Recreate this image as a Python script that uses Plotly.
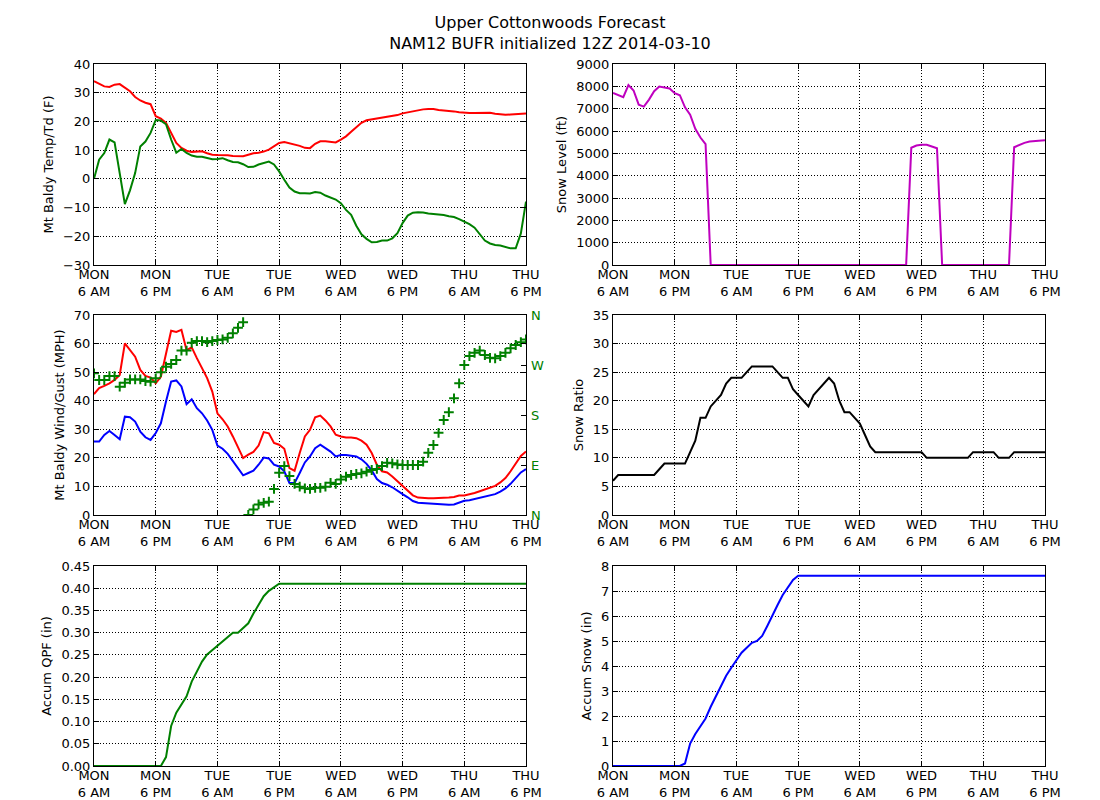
import plotly.graph_objects as go

# forecast hour since MON 6 AM (hourly NAM12 BUFR output)
hours = list(range(85))
tick_hours = [0, 12, 24, 36, 48, 60, 72, 84]
tick_labels = ["MON<br>6 AM", "MON<br>6 PM", "TUE<br>6 AM", "TUE<br>6 PM",
               "WED<br>6 AM", "WED<br>6 PM", "THU<br>6 AM", "THU<br>6 PM"]

temp_f = [34, 33, 32.2, 32, 32.8, 33, 31.7, 30.5, 28.5, 27.3,
          26.5, 26, 21.8, 21, 19.5, 16, 12.5, 10.8, 9.8, 9.4,
          9.4, 9.6, 8.9, 8.4, 8.3, 8.3, 8.2, 8, 8, 7.9,
          8.4, 8.9, 9.1, 9.5, 10.2, 11.3, 12.5, 12.8, 12.4, 11.9,
          11.5, 10.8, 10.7, 12.2, 13.1, 13.1, 12.9, 12.7, 13.7, 14.8,
          16.4, 18, 19.5, 20.4, 20.7, 20.8, 21.2, 21.6, 21.8, 22.2,
          22.8, 23.2, 23.6, 23.9, 24.2, 24.3, 24.3, 24, 23.9, 23.7,
          23.5, 23.2, 23, 22.9, 22.9, 23, 23.1, 23, 22.7, 22.4,
          22.3, 22.4, 22.5, 22.5, 22.8]
dewpt_f = [0, 6.7, 9, 13.7, 12.7, 2, -8.8, -4, 2, 11.3,
           13, 16, 20.5, 20.3, 19, 13.7, 9.1, 10.4, 9, 8.1,
           7.7, 7.7, 7.3, 6.8, 6.9, 7.2, 6.5, 5.9, 5.8, 5.1,
           4.1, 4.2, 5, 5.5, 6, 5, 2.6, -0.3, -3, -4.4,
           -5, -5, -5.1, -4.6, -4.8, -5.8, -6.4, -7.2, -8.5, -10.8,
           -12.5, -16.3, -19.3, -20.9, -22.1, -22, -21.5, -21.5, -20.7, -18.9,
           -15.4, -12.8, -11.8, -11.6, -11.7, -12.1, -12.2, -12.3, -12.6, -13,
           -13.3, -14, -14.9, -15.8, -17, -19.2, -21.5, -22.5, -23, -23.2,
           -23.6, -24.2, -24.2, -19, -7.9]

snow_level_ft = [7707, 7602, 7512, 8053, 7813, 7181, 7091, 7407, 7782, 7993,
                 7933, 7903, 7692, 7602, 7061, 6731, 6100, 5709, 5409, 0,
                 0, 0, 0, 0, 0, 0, 0, 0, 0, 0,
                 0, 0, 0, 0, 0, 0, 0, 0, 0, 0,
                 0, 0, 0, 0, 0, 0, 0, 0, 0, 0,
                 0, 0, 0, 0, 0, 0, 0, 0, 5250, 5349,
                 5379, 5379, 5304, 5229, 0, 0, 0, 0, 0, 0,
                 0, 0, 0, 0, 0, 0, 0, 0, 5274, 5379,
                 5469, 5529, 5559, 5589, 5589]

wind_mph = [25.7, 25.7, 28, 29.4, 28, 26.5, 34.4, 34.2, 32.7, 29.2,
            27.2, 26.3, 28.7, 32.1, 39.7, 46.7, 47.1, 45, 38.8, 40.5,
            37.4, 35.6, 33.1, 29.8, 24.3, 23.2, 21.4, 18.8, 16.2, 13.9,
            14.7, 15.5, 17.6, 20.1, 19.8, 17.6, 17, 15.3, 11.2, 11.2,
            14.7, 18.4, 20.5, 23.4, 24.6, 23.4, 22.2, 20.5, 21, 21,
            20.8, 20.5, 19.5, 17.9, 15.6, 12.6, 11.2, 10.6, 9.7, 8.4,
            7.3, 6.2, 4.9, 4.3, 4.2, 4.1, 3.8, 3.7, 3.6, 3.6,
            3.7, 4.3, 5, 5.2, 5.6, 5.9, 6.4, 6.9, 7.3, 8.2,
            9.3, 10.9, 12.9, 14.9, 16.1]
gust_mph = [42.3, 44.4, 45.2, 46.1, 47.3, 49, 60.1, 57.8, 55.4, 50.8,
            48.7, 48.1, 46.1, 48.4, 56.6, 64.5, 64.1, 64.8, 57.7, 58.7,
            54.9, 51.6, 47.9, 43.2, 35.6, 33.5, 31, 27.5, 23.6, 19.9,
            21.1, 22.1, 24.3, 29, 28.6, 25.2, 24.6, 23.2, 16.4, 15.5,
            21.7, 27.5, 29.8, 34.2, 34.8, 33.1, 31, 28.1, 27.5, 27.1,
            27.1, 26.9, 26, 24.6, 21.7, 17.6, 15.3, 14.9, 13.5, 11.8,
            10.2, 8.6, 6.9, 6.1, 5.9, 5.9, 5.9, 5.9, 5.9, 6.1,
            6.3, 6.8, 6.8, 7.2, 7.7, 8.3, 8.9, 9.4, 10.2, 11.4,
            12.9, 15.3, 18.2, 20.7, 22.2]
wind_dir_deg = [255, 243, 243, 250, 250, 231, 238, 244, 244, 244,
                241, 240, 246, 257, 267, 272, 279, 296, 296, 310,
                313, 313, 311, 313, 315, 316, 319, 327, 337, 347,
                0, 10, 19, 22, 24, 47, 76, 88, 70, 56,
                51, 48, 47, 49, 49, 51, 58, 56, 64, 69,
                72, 74, 75, 78, 81, 83, 88, 94, 93, 91,
                90, 90, 90, 90, 96, 112, 126, 148, 171, 185,
                210, 237, 270, 286, 292, 296, 288, 283, 282, 286,
                292, 300, 306, 311, 316]
dir_ticks = [0, 90, 180, 270, 360]
dir_labels = ["N", "E", "S", "W", "N"]

snow_ratio = [6, 7, 7, 7, 7, 7, 7, 7, 7, 8,
              9, 9, 9, 9, 9, 11, 13, 17, 17, 19,
              20, 21, 23, 24, 24, 24, 25, 26, 26, 26,
              26, 26, 25, 24, 24, 22, 21, 20, 19, 21,
              22, 23, 24, 23, 20, 18, 18, 17, 16, 14,
              12, 11, 11, 11, 11, 11, 11, 11, 11, 11,
              11, 10, 10, 10, 10, 10, 10, 10, 10, 10,
              11, 11, 11, 11, 11, 10, 10, 10, 11, 11,
              11, 11, 11, 11, 11]

accum_qpf_in = [0, 0, 0, 0, 0, 0, 0, 0, 0, 0,
                0, 0, 0, 0, 0.02, 0.09, 0.12, 0.137, 0.157, 0.19,
                0.212, 0.235, 0.251, 0.261, 0.271, 0.281, 0.291, 0.30, 0.30, 0.311,
                0.321, 0.343, 0.362, 0.382, 0.394, 0.403, 0.41, 0.41, 0.41, 0.41,
                0.41, 0.41, 0.41, 0.41, 0.41, 0.41, 0.41, 0.41, 0.41, 0.41,
                0.41, 0.41, 0.41, 0.41, 0.41, 0.41, 0.41, 0.41, 0.41, 0.41,
                0.41, 0.41, 0.41, 0.41, 0.41, 0.41, 0.41, 0.41, 0.41, 0.41,
                0.41, 0.41, 0.41, 0.41, 0.41, 0.41, 0.41, 0.41, 0.41, 0.41,
                0.41, 0.41, 0.41, 0.41, 0.41]
accum_snow_in = [0, 0, 0, 0, 0, 0, 0, 0, 0, 0,
                 0, 0, 0, 0, 0.1, 0.9, 1.28, 1.57, 1.9, 2.37,
                 2.77, 3.2, 3.61, 3.93, 4.24, 4.53, 4.73, 4.93, 5.0, 5.2,
                 5.6, 6.04, 6.44, 6.84, 7.15, 7.44, 7.61, 7.61, 7.61, 7.61,
                 7.61, 7.61, 7.61, 7.61, 7.61, 7.61, 7.61, 7.61, 7.61, 7.61,
                 7.61, 7.61, 7.61, 7.61, 7.61, 7.61, 7.61, 7.61, 7.61, 7.61,
                 7.61, 7.61, 7.61, 7.61, 7.61, 7.61, 7.61, 7.61, 7.61, 7.61,
                 7.61, 7.61, 7.61, 7.61, 7.61, 7.61, 7.61, 7.61, 7.61, 7.61,
                 7.61, 7.61, 7.61, 7.61, 7.61]

RED, GREEN, BLUE, MAGENTA = "#ff0000", "#008000", "#0000ff", "#bf00bf"
FONT = "DejaVu Sans"

fig = go.Figure()


def line(x_ax, y_ax, y, color):
    fig.add_trace(go.Scatter(x=hours, y=y, xaxis=x_ax, yaxis=y_ax, mode="lines",
                             line=dict(color=color, width=2), showlegend=False))


line("x", "y", temp_f, RED)
line("x", "y", dewpt_f, GREEN)
line("x2", "y2", snow_level_ft, MAGENTA)
line("x3", "y3", gust_mph, RED)
line("x3", "y3", wind_mph, BLUE)
fig.add_trace(go.Scatter(x=hours, y=wind_dir_deg, xaxis="x3", yaxis="y7", mode="markers",
                         marker=dict(symbol="cross-thin", size=7, color=GREEN,
                                     line=dict(color=GREEN, width=2)),
                         showlegend=False))
line("x4", "y4", snow_ratio, "black")
line("x5", "y5", accum_qpf_in, GREEN)
line("x6", "y6", accum_snow_in, BLUE)

# panel boxes in pixels of the screenshot (page body adds an 8px offset)
OFF = 8
cols = [(94 - OFF, 526 - OFF), (613 - OFF, 1045 - OFF)]
rows = [(64 - OFF, 265 - OFF), (315 - OFF, 515 - OFF), (566 - OFF, 766 - OFF)]

common = dict(showline=True, linecolor="black", linewidth=1, mirror="ticks",
              ticks="inside", ticklen=5, tickcolor="black", automargin=False,
              showgrid=True, gridcolor="black", gridwidth=1, griddash="1px,2px",
              zeroline=False, tickfont=dict(size=13, color="black"))

y_setup = [
    ("Mt Baldy Temp/Td (F)", [-30, 40], 10, None),
    ("Snow Level (ft)", [0, 9000], 1000, None),
    ("Mt Baldy Wind/Gust (MPH)", [0, 70], 10, None),
    ("Snow Ratio", [0, 35], 5, None),
    ("Accum QPF (in)", [0, 0.45], 0.05, ".2f"),
    ("Accum Snow (in)", [0, 8], 1, None),
]

layout = {}
for i, (title, yr, dt, fmt) in enumerate(y_setup):
    r, c = divmod(i, 2)
    x0, x1 = cols[c]
    top, bot = rows[r]
    n = "" if i == 0 else str(i + 1)
    layout["xaxis" + n] = dict(common, domain=[x0 / 1100, x1 / 1100], anchor="y" + n,
                               range=[0, 84], tickvals=tick_hours, ticktext=tick_labels,
                               ticklabelstandoff=-3)
    ya = dict(common, domain=[1 - bot / 800, 1 - top / 800], anchor="x" + n,
              range=yr, dtick=dt, title=dict(text=title, font=dict(size=13), standoff=6))
    if fmt:
        ya["tickformat"] = fmt
    layout["yaxis" + n] = ya

layout["yaxis7"] = dict(overlaying="y3", anchor="x3", side="right", range=[0, 360],
                        tickvals=dir_ticks, ticktext=dir_labels, showgrid=False,
                        zeroline=False, ticks="inside", ticklen=5, tickcolor="black",
                        ticklabelstandoff=4,
                        automargin=False, tickfont=dict(size=13, color=GREEN))

fig.update_layout(**layout)
fig.update_layout(
    width=1100, height=800,
    margin=dict(l=0, r=0, t=0, b=0, autoexpand=False),
    paper_bgcolor="white", plot_bgcolor="white",
    font=dict(family=FONT, size=13, color="black"),
    title=dict(text="Upper Cottonwoods Forecast<br>NAM12 BUFR initialized 12Z 2014-03-10",
               x=0.5 - OFF / 1100, xanchor="center", y=0.975, yanchor="top", yref="container",
               automargin=False, font=dict(size=16, family=FONT)),
)

fig.write_html("out.html")
